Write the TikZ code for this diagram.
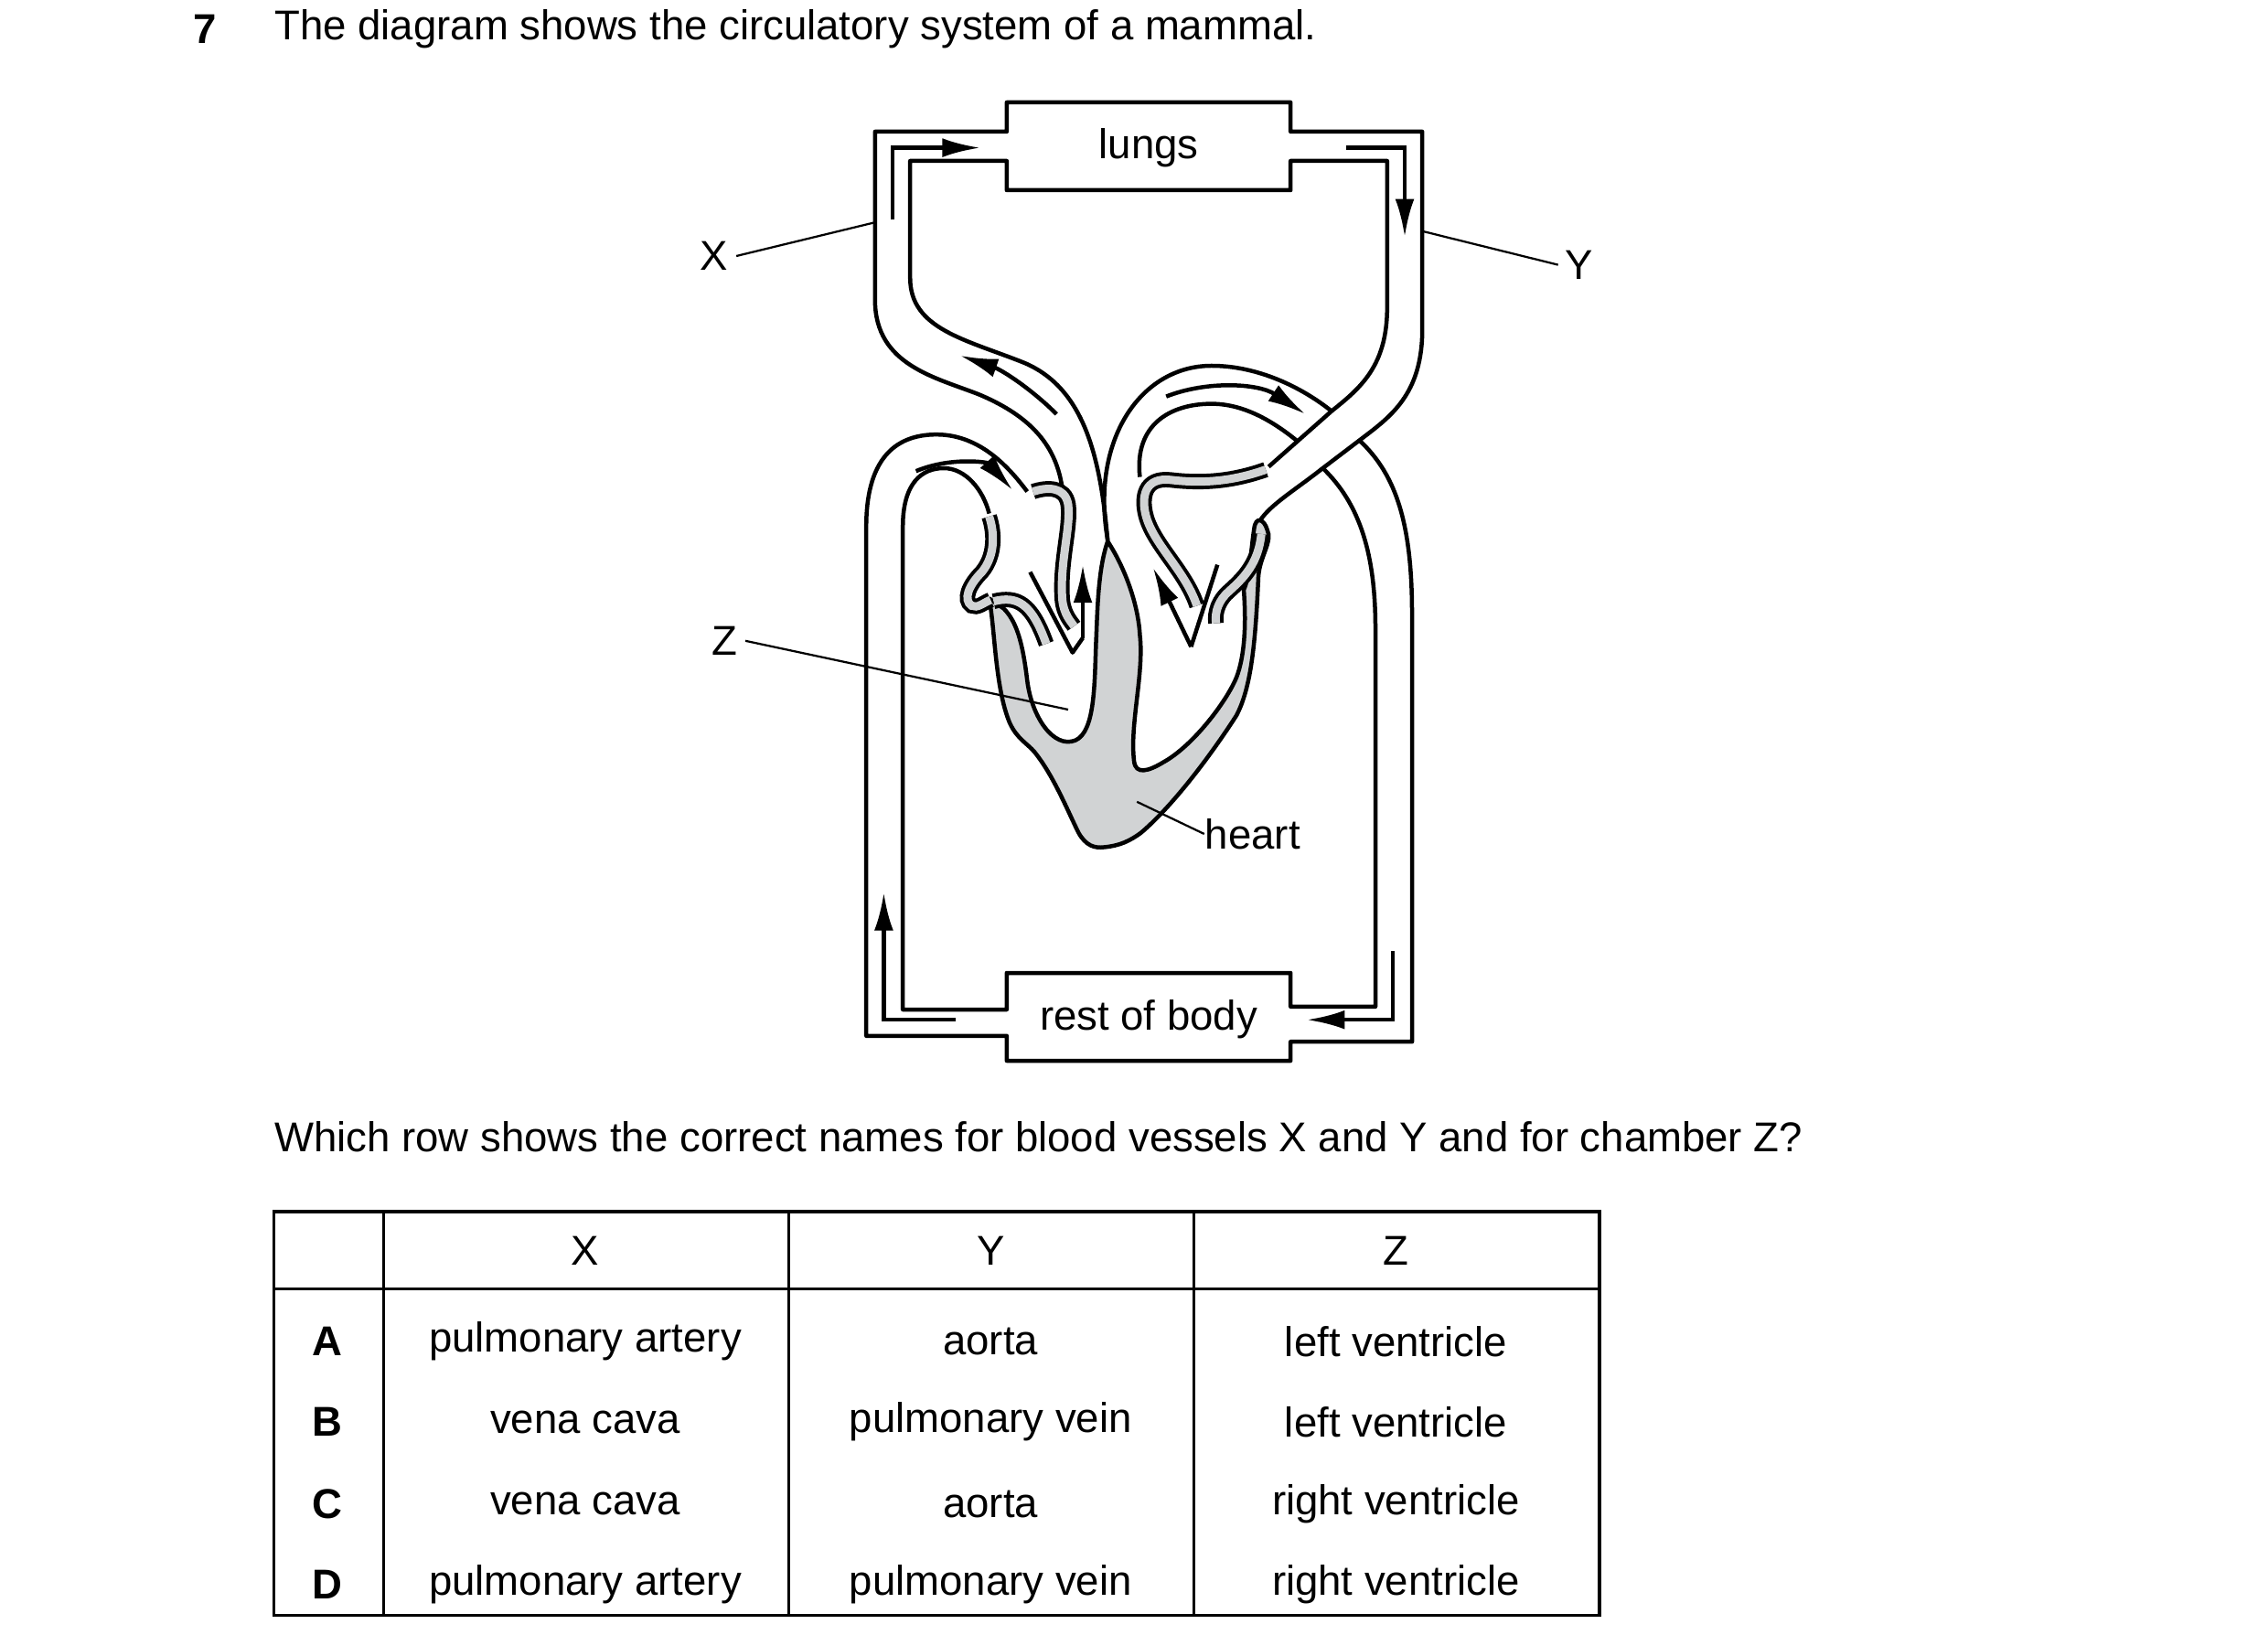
\documentclass[tikz,border=0pt]{standalone}
\usepackage{fontspec}
\setmainfont{Liberation Sans}
\usetikzlibrary{arrows.meta}
\definecolor{wallgrey}{RGB}{209,211,212}
\tikzset{
  vessel/.style={line width=0.8pt, line join=round},
  wall/.style={line width=0.7pt, double=wallgrey, double distance=1.6pt},
  flow/.style={line width=0.8pt, -{Latex[length=2.6mm,width=1.3mm]}},
  pointer/.style={line width=0.4pt},
  lbl/.style={font=\fontsize{8.1}{9}\selectfont, inner sep=0pt},
  cell/.style={font=\fontsize{8.1}{9}\selectfont, inner sep=0pt},
}
\begin{document}
\begin{tikzpicture}[x=0.1mm,y=-0.1mm]
\useasboundingbox (0,0) rectangle (1550,1117);
% question
\node[lbl,font=\fontsize{8.1}{9}\selectfont\bfseries] (qnum) at (140,20) {7};
\node[lbl,anchor=west] (qtext) at (187,20) {The diagram shows the circulatory system of a mammal.};
% lungs box
\draw[vessel] (726,334) .. controls (722,305) and (705,285) .. (670,270) .. controls (640,258) and (598,250) .. (598,205)
  -- (598,90) -- (688,90) -- (688,70) -- (882,70) -- (882,90) -- (972,90) -- (972,225)
  .. controls (972,270) and (950,285) .. (929,301) -- (904,320) .. controls (885,335) and (868,345) .. (861,356);
\draw[vessel] (757,370) .. controls (752,310) and (740,265) .. (700,248) .. controls (660,232) and (622,225) .. (622,190)
  -- (622,110) -- (688,110) -- (688,130) -- (882,130) -- (882,110) -- (948,110) -- (948,210)
  .. controls (948,250) and (930,265) .. (910,281) -- (867,319);
\node[lbl] (lungs) at (785,101) {lungs};
\draw[flow] (610,150) -- (610,101) -- (670,101);
\draw[flow] (920,101) -- (960,101) -- (960,162);
% rest of body box
\draw[vessel] (702,336) .. controls (690,320) and (670,297) .. (640,297) .. controls (615,297) and (592,310) .. (592,360)
  -- (592,708) -- (688,708) -- (688,725) -- (882,725) -- (882,712) -- (965,712) -- (965,420)
  .. controls (965,360) and (955,325) .. (929,301);
\draw[vessel] (676,351) .. controls (672,335) and (660,320) .. (645,320) .. controls (630,320) and (617,330) .. (617,360)
  -- (617,690) -- (688,690) -- (688,665) -- (882,665) -- (882,688) -- (940,688) -- (940,430)
  .. controls (940,380) and (930,345) .. (904,320);
\node[lbl] (body) at (785,697) {rest of body};
\draw[flow] (653,697) -- (604,697) -- (604,610);
\draw[flow] (952,650) -- (952,697) -- (893,697);
% aorta arch
\draw[vessel] (757,369) .. controls (745,300) and (780,250) .. (828,250) .. controls (860,250) and (890,265) .. (910,281);
\draw[vessel] (779,326) .. controls (775,290) and (800,276) .. (828,276) .. controls (850,276) and (870,288) .. (886,301);
% heart muscle
\draw[vessel, fill=wallgrey] (676,409) .. controls (680,430) and (680,470) .. (690,494)
  .. controls (695,505) and (702,508) .. (707,514) .. controls (720,530) and (730,555) .. (737,569)
  .. controls (742,578) and (748,580) .. (755,579) .. controls (765,578) and (772,575) .. (780,569)
  .. controls (800,552) and (825,520) .. (845,489) .. controls (855,470) and (858,440) .. (860,394)
  .. controls (861,380) and (870,370) .. (866,362) .. controls (864,355) and (858,352) .. (857,362)
  .. controls (855,375) and (854,395) .. (850,403)
  .. controls (852,430) and (850,450) .. (845,463) .. controls (838,480) and (815,510) .. (795,521)
  .. controls (785,527) and (776,530) .. (775,520) .. controls (772,495) and (782,460) .. (779,434)
  .. controls (778,415) and (770,390) .. (757,370) .. controls (750,390) and (750,420) .. (749,440)
  .. controls (748,470) and (748,500) .. (735,506) .. controls (720,512) and (705,490) .. (702,465)
  .. controls (699,440) and (695,425) .. (686,416) -- cycle;
% atrial walls and valves
\draw[wall] (676,353) .. controls (680,365) and (680,380) .. (671,391) .. controls (662,400) and (658,410) .. (664,414)
  .. controls (668,416) and (672,412) .. (677,410);
\draw[wall] (679,411) .. controls (695,407) and (705,412) .. (715,440);
\draw[wall] (706,336) .. controls (715,333) and (728,332) .. (730,345) .. controls (732,360) and (724,385) .. (726,410)
  .. controls (727,420) and (732,425) .. (734,428);
\draw[wall] (865,321) .. controls (845,328) and (825,331) .. (800,328) .. controls (782,326) and (780,340) .. (783,352)
  .. controls (788,372) and (810,390) .. (818,414);
\draw[wall] (862,365) .. controls (860,385) and (850,395) .. (840,404) .. controls (833,410) and (830,418) .. (831,426);
\draw[vessel] (704,391) -- (733,446) -- (740,436);
\draw[flow] (740,436) -- (740,386);
\draw[vessel] (832,386) -- (814,442);
\draw[flow] (814,442) -- (788,388);
% curved flow arrows
\draw[flow] (722,283) .. controls (705,266) and (685,253) .. (656,243);
\draw[flow] (626,322) .. controls (650,312) and (675,316) .. (692,335);
\draw[flow] (797,271) .. controls (825,260) and (860,262) .. (892,283);
% labels
\node[lbl] (X) at (488,175) {X};
\node[lbl] (Y) at (1079,181) {Y};
\node[lbl] (Z) at (495,438) {Z};
\node[lbl,anchor=west] (heart) at (823,570) {heart};
\coordinate (xend) at (598,152);
\coordinate (yend) at (972,158);
\coordinate (zend) at (730,485);
\coordinate (hend) at (777,548);
\draw[pointer] (X.east) ++(5,0) -- (xend);
\draw[pointer] (Y.west) ++(-4,0) -- (yend);
\draw[pointer] (Z.east) ++(5,0) -- (zend);
\draw[pointer] (heart.west) -- (hend);
% table
\node[lbl,anchor=west] (q2) at (187,777) {Which row shows the correct names for blood vessels X and Y and for chamber Z?};
\draw[line width=0.6pt] (187,828) rectangle (1093,1104);
\draw[line width=0.6pt] (187,881) -- (1093,881);
\foreach \cx in {262,539,816} \draw[line width=0.6pt] (\cx,828) -- (\cx,1104);
\node[cell] (hX) at (400,855) {X};
\node[cell] (hY) at (677,855) {Y};
\node[cell] (hZ) at (954,855) {Z};
\foreach \r/\y/\a/\b/\c in {A/917/pulmonary artery/aorta/left ventricle,
  B/972/vena cava/pulmonary vein/left ventricle,
  C/1028/vena cava/aorta/right ventricle,
  D/1083/pulmonary artery/pulmonary vein/right ventricle}{
  \node[cell,font=\fontsize{8.1}{9}\selectfont\bfseries] (row\r) at (224,\y) {\r};
  \node[cell] (x\r) at (400,\y) {\a};
  \node[cell] (y\r) at (677,\y) {\b};
  \node[cell] (z\r) at (954,\y) {\c};
}
\end{tikzpicture}
\end{document}
